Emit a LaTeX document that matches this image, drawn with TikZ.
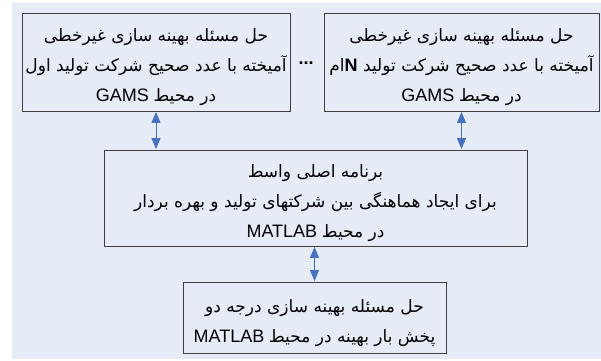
\documentclass[tikz,border=0pt]{standalone}
\usepackage{fontspec}
\setmainfont{Liberation Sans}
\newfontfamily\fafont[Script=Arabic]{DejaVu Sans}
\TeXXeTstate=1
\usetikzlibrary{arrows.meta}
\definecolor{bgc}{HTML}{E6ECF6}
\definecolor{arrc}{HTML}{4472C4}
\definecolor{brd}{HTML}{404040}
\newcommand{\fal}[1]{{\fafont\beginR #1\endR}}
\newcommand{\lat}{\fontsize{18}{30}\selectfont}
\newcommand{\fmix}[2]{{\beginR{\fafont #1} \beginL{\lat #2}\endL\endR}}
\newcommand{\mytopstrut}{\vrule height 24pt depth 0pt width 0pt\relax}
\tikzset{
  box/.style={draw=brd, line width=0.9pt, fill=bgc, align=center, inner sep=0pt,
    font=\fontsize{17}{30}\selectfont},
  arr/.style={draw=arrc, line width=0.9pt, {Triangle[width=9pt,length=11pt]}-{Triangle[width=9pt,length=11pt]}, shorten <=0.5pt, shorten >=0.5pt}
}
\begin{document}
\begin{tikzpicture}[x=1pt,y=-1pt]
\lineskiplimit=-100pt\relax
\lineskip=0pt\relax
\useasboundingbox (0,0) rectangle (601,360);
\fill[bgc] (12,3) rectangle (601,359);
\node[box, minimum width=268pt, minimum height=98pt] (L) at (156,62)
  {\mytopstrut\fal{حل مسئله بهینه سازی غیرخطی}\\ \fal{آمیخته با عدد صحیح شرکت تولید اول}\\ \fmix{در محیط}{GAMS}};
\node[box, minimum width=275pt, minimum height=98pt] (R) at (461.5,62)
  {\mytopstrut\fal{حل مسئله بهینه سازی غیرخطی}\\ \fal{آمیخته با عدد صحیح شرکت تولید {\rmfamily\bfseries\lat N}ام}\\ \fmix{در محیط}{GAMS}};
\node[font=\bfseries\fontsize{18}{20}\selectfont] (dots) at (306,63) {...};
\node[box, minimum width=423pt, minimum height=96pt] (M) at (315.5,198)
  {\mytopstrut\fal{برنامه اصلی واسط}\\ \fal{برای ایجاد هماهنگی بین شرکتهای تولید و بهره بردار}\\ \fmix{در محیط}{MATLAB}};
\node[box, minimum width=263pt, minimum height=71pt] (B) at (314.5,317.5)
  {\mytopstrut\fal{حل مسئله بهینه سازی درجه دو}\\ \fmix{پخش بار بهینه در محیط}{MATLAB}};
\draw[arr] (L.south) -- (L.south |- M.north);
\draw[arr] (R.south) -- (R.south |- M.north);
\draw[arr] (B.north) -- (B.north |- M.south);
\end{tikzpicture}
\end{document}
